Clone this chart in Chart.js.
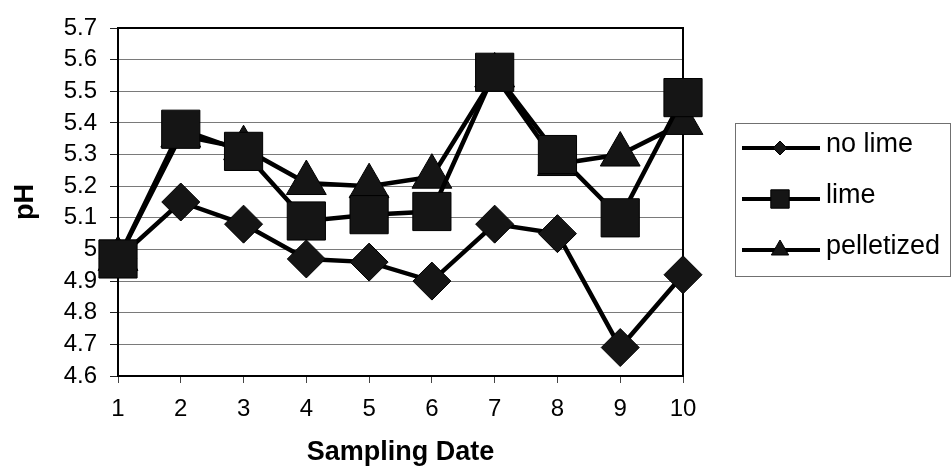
<!DOCTYPE html>
<html>
<head>
<meta charset="utf-8">
<script src="https://cdn.jsdelivr.net/npm/chart.js@4.4.1/dist/chart.umd.min.js"></script>
<style>
  html, body { margin: 0; padding: 0; background: #fff; }
  #wrap { width: 952px; height: 473px; position: relative; }
</style>
</head>
<body>
<div id="wrap"><canvas id="c" width="952" height="473"></canvas></div>
<script>
// Sampling dates (x categories)
const samplingDates = ['1', '2', '3', '4', '5', '6', '7', '8', '9', '10'];

// Soil pH per treatment
const noLime     = [4.97, 5.15, 5.08, 4.97, 4.96, 4.90, 5.08, 5.05, 4.69, 4.92];
const lime       = [4.97, 5.38, 5.31, 5.09, 5.11, 5.12, 5.56, 5.30, 5.10, 5.48];
const pelletized = [4.97, 5.36, 5.32, 5.21, 5.20, 5.23, 5.55, 5.27, 5.30, 5.40];

// pH axis ticks
const phTicks = [4.6, 4.7, 4.8, 4.9, 5.0, 5.1, 5.2, 5.3, 5.4, 5.5, 5.6, 5.7];

const INK = '#000000';
const MARK = '#151515';
const FONT = '"Liberation Sans", Arial, sans-serif';

// Box around the plotting area
const frame = {
  id: 'frame',
  beforeDatasetsDraw(chart) {
    const { ctx, chartArea: a } = chart;
    ctx.save();
    ctx.strokeStyle = INK;
    ctx.lineWidth = 2;
    ctx.strokeRect(a.left, a.top, a.right - a.left, a.bottom - a.top);
    ctx.restore();
  }
};

// Legend with a line sample and the series marker
function drawMarker(ctx, style, x, y, r) {
  ctx.beginPath();
  if (style === 'rectRot') {
    ctx.moveTo(x, y - r); ctx.lineTo(x + r, y); ctx.lineTo(x, y + r); ctx.lineTo(x - r, y);
  } else if (style === 'rect') {
    const s = r * Math.SQRT1_2;
    ctx.rect(x - s, y - s, 2 * s, 2 * s);
  } else if (style === 'triangle') {
    const h = r * Math.sqrt(3) / 2;
    ctx.moveTo(x, y - r); ctx.lineTo(x + h, y + r / 2); ctx.lineTo(x - h, y + r / 2);
  }
  ctx.closePath();
  ctx.fillStyle = MARK;
  ctx.fill();
  ctx.lineWidth = 1;
  ctx.strokeStyle = INK;
  ctx.stroke();
}

const sideLegend = {
  id: 'sideLegend',
  afterDraw(chart) {
    const { ctx } = chart;
    const box = { x: 735, y: 123, w: 216, h: 154 };
    ctx.save();
    ctx.strokeStyle = '#707070';
    ctx.lineWidth = 1;
    ctx.strokeRect(box.x + 0.5, box.y + 0.5, box.w - 1, box.h - 1);
    chart.data.datasets.forEach((ds, i) => {
      const y = 148 + i * 51;
      ctx.strokeStyle = INK;
      ctx.lineWidth = 4;
      ctx.beginPath();
      ctx.moveTo(742, y);
      ctx.lineTo(820, y);
      ctx.stroke();
      drawMarker(ctx, ds.pointStyle, 780, y, ds.legendRadius);
      ctx.fillStyle = INK;
      ctx.font = '27px ' + FONT;
      ctx.textBaseline = 'middle';
      ctx.textAlign = 'left';
      ctx.fillText(ds.label, 826, y - 3);
    });
    ctx.restore();
  }
};

function series(label, data, style, radius, legendRadius, order) {
  return {
    label, data,
    borderColor: INK,
    borderWidth: 4.5,
    tension: 0,
    fill: false,
    pointStyle: style,
    pointRadius: radius,
    pointHoverRadius: radius,
    pointBackgroundColor: MARK,
    pointBorderColor: INK,
    pointBorderWidth: 1,
    legendRadius,
    order,
    clip: false
  };
}

new Chart(document.getElementById('c'), {
  type: 'line',
  data: {
    labels: samplingDates,
    datasets: [
      series('no lime', noLime, 'rectRot', 19, 7, 2),
      series('lime', lime, 'rect', 27, 13, 0),
      series('pelletized', pelletized, 'triangle', 23, 10, 1)
    ]
  },
  options: {
    responsive: false,
    animation: false,
    events: [],
    layout: { padding: { top: 26, right: 269, left: 0, bottom: 0 } },
    plugins: {
      legend: { display: false },
      title: { display: false },
      tooltip: { enabled: false }
    },
    scales: {
      x: {
        type: 'category',
        offset: false,
        afterFit(scale) { scale.height = 97; },
        grid: {
          drawOnChartArea: false,
          drawTicks: true,
          tickLength: 7,
          tickColor: '#444',
          lineWidth: 1
        },
        border: { display: true, color: INK, width: 2 },
        ticks: {
          color: INK,
          padding: 12,
          maxRotation: 0,
          autoSkip: false,
          font: { family: FONT, size: 24 }
        },
        title: {
          display: true,
          text: 'Sampling Date',
          color: INK,
          padding: { top: 0, bottom: 4 },
          font: { family: FONT, size: 27, weight: 'bold' }
        }
      },
      y: {
        min: 4.6,
        max: 5.7,
        afterFit(scale) { scale.width = 118; },
        afterBuildTicks(scale) { scale.ticks = phTicks.map(v => ({ value: v })); },
        grid: {
          color: '#7a7a7a',
          lineWidth: 1,
          drawTicks: true,
          tickLength: 8,
          tickColor: '#222'
        },
        border: { display: true, color: INK, width: 2 },
        ticks: {
          color: INK,
          padding: 13,
          autoSkip: false,
          font: { family: FONT, size: 24 },
          callback: v => String(Number(Number(v).toFixed(1)))
        },
        title: {
          display: true,
          text: 'pH',
          color: INK,
          padding: { top: 9, bottom: 0 },
          font: { family: FONT, size: 27, weight: 'bold' }
        }
      }
    }
  },
  plugins: [frame, sideLegend]
});
</script>
</body>
</html>
